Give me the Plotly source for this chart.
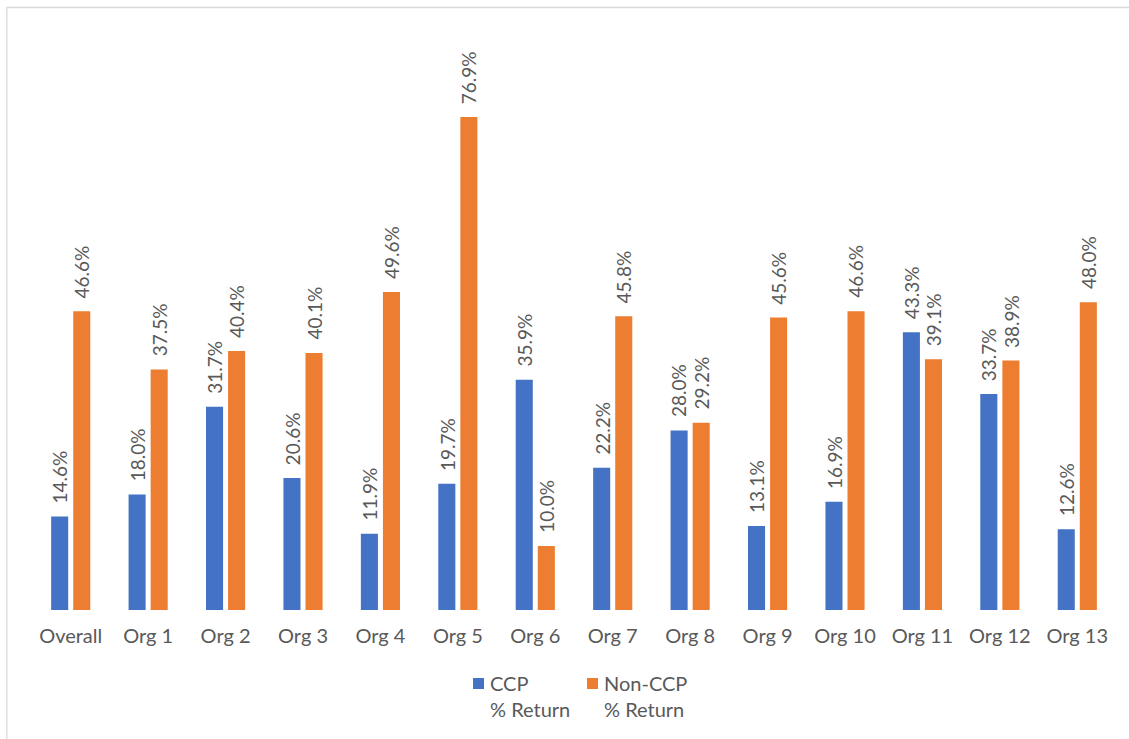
import plotly.graph_objects as go

# Return rates by organisation
categories = ["Overall", "Org 1", "Org 2", "Org 3", "Org 4", "Org 5", "Org 6",
              "Org 7", "Org 8", "Org 9", "Org 10", "Org 11", "Org 12", "Org 13"]
ccp_return = [14.6, 18.0, 31.7, 20.6, 11.9, 19.7, 35.9, 22.2, 28.0, 13.1, 16.9, 43.3, 33.7, 12.6]
non_ccp_return = [46.6, 37.5, 40.4, 40.1, 49.6, 76.9, 10.0, 45.8, 29.2, 45.6, 46.6, 39.1, 38.9, 48.0]
series_names = [("CCP", "% Return"), ("Non-CCP", "% Return")]

BLUE = "#4472C4"
ORANGE = "#ED7D31"
TEXT = "#595959"
FONT = "Lato"

W, H = 1129, 739
ML, MR, MT, MB = 32, 13, 65, 129
BARGAP = 0.43
GROUPGAP = 0.227
# centre offset of each bar inside its category (category units)
slot = (1 - BARGAP) / 2
offset = slot / 2

plot_w = W - ML - MR
plot_h = H - MT - MB


def px_x(px):
    return (px - ML) / plot_w


def px_y(py):
    return ((H - MB) - py) / plot_h


fig = go.Figure()
for vals, color, (line1, line2) in ((ccp_return, BLUE, series_names[0]),
                                     (non_ccp_return, ORANGE, series_names[1])):
    fig.add_trace(go.Bar(x=categories, y=vals, name=f"{line1} {line2}",
                         showlegend=False,
                         marker=dict(color=color, line=dict(width=0))))

annotations = []
for i in range(len(categories)):
    for val, dx in ((ccp_return[i], -offset), (non_ccp_return[i], offset)):
        annotations.append(dict(
            x=i + dx, y=val, xref="x", yref="y",
            text=f"{val:.1f}%", showarrow=False, textangle=-90,
            xanchor="center", yanchor="bottom", yshift=11,
            font=dict(family=FONT, size=19, color=TEXT),
        ))

# legend: coloured square followed by a two-line label
shapes = []
legend_items = [(473, BLUE, series_names[0]), (587, ORANGE, series_names[1])]
for x_px, color, (line1, line2) in legend_items:
    shapes.append(dict(type="rect", xref="paper", yref="paper",
                       x0=px_x(x_px), x1=px_x(x_px + 11),
                       y0=px_y(689), y1=px_y(678),
                       fillcolor=color, line=dict(width=0)))
    for text, y_px in ((line1, 683), (line2, 708.5)):
        annotations.append(dict(
            x=px_x(x_px + 15), y=px_y(y_px), xref="paper", yref="paper",
            text=text, showarrow=False, xanchor="left", yanchor="middle",
            font=dict(family=FONT, size=20, color=TEXT),
        ))

# light frame around the chart
shapes.append(dict(type="rect", xref="paper", yref="paper",
                   x0=px_x(6.8), x1=1.2, y0=-0.5, y1=px_y(7.5),
                   line=dict(color="#D9D9D9", width=1.3), layer="below"))

fig.update_layout(
    width=W, height=H,
    margin=dict(l=ML, r=MR, t=MT, b=MB),
    paper_bgcolor="white", plot_bgcolor="white",
    barmode="group", bargap=BARGAP, bargroupgap=GROUPGAP,
    font=dict(family=FONT, color=TEXT),
    showlegend=False,
    xaxis=dict(type="category", range=[-0.5, len(categories) - 0.5],
               showgrid=False, showline=False, zeroline=False, ticks="",
               tickfont=dict(family=FONT, size=20, color=TEXT),
               ticklabelstandoff=12),
    yaxis=dict(range=[0, 85], visible=False, showgrid=False, zeroline=False),
    annotations=annotations,
    shapes=shapes,
)

fig.write_html("out.html")
